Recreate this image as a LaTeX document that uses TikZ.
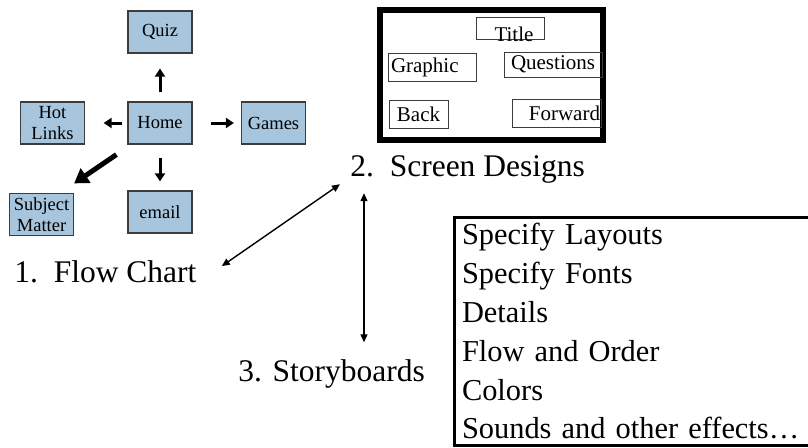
\documentclass[tikz,border=0pt]{standalone}
\usepackage{fontspec}
\setmainfont{Liberation Serif}
\usetikzlibrary{arrows.meta}

\definecolor{boxfill}{RGB}{167,198,222}
\definecolor{boxline}{RGB}{60,60,60}

\tikzset{
  chart/.style={draw=boxline, fill=boxfill, line width=0.6pt, minimum width=32pt,
    minimum height=21pt, inner sep=1pt, align=center, font=\fontsize{9.25}{10.5}\selectfont},
  widget/.style={draw=boxline, line width=0.5pt, inner sep=1pt, font=\fontsize{10.5}{12}\selectfont},
  big/.style={inner sep=0pt, anchor=base west, font=\fontsize{15.75}{19.4}\selectfont},
  chartarrow/.style={line width=1.5pt, -{Triangle[length=4pt,width=5pt]}},
  bigarrow/.style={line width=2.5pt, -{Triangle[length=7pt,width=8.5pt]}},
  link/.style={line width=0.7pt, {Triangle[length=4pt,width=3.5pt]}-{Triangle[length=4pt,width=3.5pt]}},
}

\begin{document}
\begin{tikzpicture}[x=0.5pt,y=-0.5pt]
        \useasboundingbox (0,0) rectangle (808,447);

        \node[chart] at (160,32) (quiz) {Quiz};
        \node[chart] at (160,123) (home) {Home};
        \node[chart] at (52.5,123) (hot) {Hot\\Links};
        \node[chart] at (273.5,123) (games) {Games};
        \node[chart] at (41.5,214.5) (subj) {Subject\\Matter};
        \node[chart] at (160,212) (email) {email};
        \draw[chartarrow, shorten <=4.5pt, shorten >=7.5pt] (home.north) -- (quiz.south);
        \draw[chartarrow, shorten <=2.5pt, shorten >=9.25pt] (home.west) -- (hot.east);
        \draw[chartarrow, shorten <=9pt, shorten >=3.5pt] (home.east) -- (games.west);
        \draw[chartarrow, shorten <=6.5pt, shorten >=4.5pt] (home.south) -- (email.north);
        \draw[bigarrow] ([shift={(-11,10)}]home.south west) -- ([shift={(0,-9.5)}]subj.north east);

        % screen mock-up
        \node[draw, line width=3pt, minimum width=111.5pt, minimum height=65pt, inner sep=0pt] at (491.5,75) (frame) {};
        \node[widget, minimum width=34pt, minimum height=11pt] at (510,28) (title) {};
        \node[widget, draw=none, anchor=base] at (514,41) (titletxt) {Title};
        \node[widget, text width=41.5pt, align=left, inner xsep=1.25pt, minimum height=14pt] at (432.5,67) (graphic) {Graphic};
        \node[widget, minimum width=49pt, minimum height=12.5pt] at (553,64.5) (questions) {Questions};
        \node[widget, minimum width=29.5pt, minimum height=14pt] at (418.5,114) (back) {Back};
        \node[widget, text width=43.5pt, align=right, inner xsep=0.5pt, minimum height=14pt] at (556.5,113) (forward) {Forward};

        \node[big] at (14,282.5) (flowlbl) {1.\ \ Flow Chart};
        \node[big] at (350,176) (scrlbl) {2.\ \ Screen Designs};
        \node[big] at (238,381) (storylbl) {3. Storyboards};
        \coordinate (vtop) at ([xshift=7pt]scrlbl.south west);
        \draw[link] ([shift={(25,-5.7)}]flowlbl.east) -- ([shift={(-10,1)}]scrlbl.south west);
        \draw[link, shorten <=5pt, shorten >=8.25pt] (vtop) -- (vtop |- storylbl.north);

        \node[draw, line width=1.5pt, anchor=north west, inner xsep=3.75pt, inner ysep=3pt,
          text width=200pt, align=left, font=\fontsize{15.2}{19.4}\selectfont] at (453,216) (specs)
          {Specify Layouts\\Specify Fonts\\Details\\Flow and Order\\Colors\\Sounds and other effects…};
\end{tikzpicture}
\end{document}
